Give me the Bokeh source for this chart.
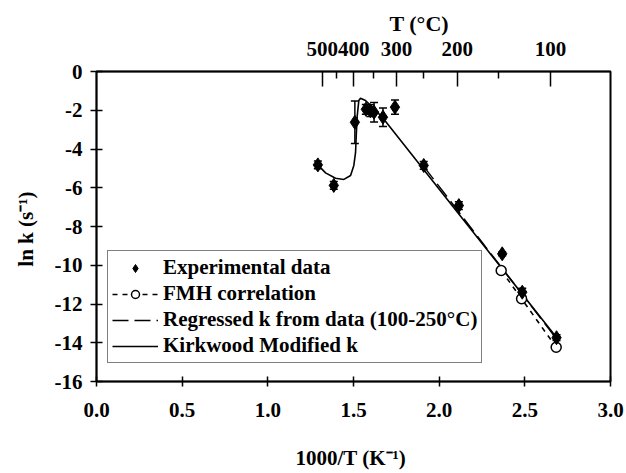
import numpy as np
from bokeh.plotting import figure
from bokeh.models import (Range1d, LinearAxis, FixedTicker, NumeralTickFormatter,
                          CustomJSTickFormatter, Legend, LegendItem, Whisker, TeeHead,
                          ColumnDataSource)
from bokeh.embed import file_html
from bokeh.resources import INLINE

# ---------------- data ----------------
exp_x = [1.292, 1.385, 1.508, 1.572, 1.598, 1.620, 1.672, 1.742, 1.910, 2.115, 2.368, 2.485, 2.685]
exp_y = [-4.82, -5.88, -2.62, -1.95, -2.02, -2.10, -2.36, -1.84, -4.85, -6.92, -9.41, -11.39, -13.74]
exp_err = [0.20, 0.20, 1.10, 0.25, 0.30, 0.50, 0.48, 0.37, 0.20, 0.20, 0.10, 0.20, 0.15]

fmh_x = [2.362, 2.481, 2.683]
fmh_y = [-10.27, -11.73, -14.23]

reg_x = [1.910, 2.685]
reg_y = [-4.90, -13.80]

kw_x = [1.292, 1.337, 1.395, 1.444, 1.483, 1.502, 1.512, 1.516, 1.522, 1.531, 1.541, 1.570, 1.599, 1.668, 2.685]
kw_y = [-4.82, -5.23, -5.51, -5.57, -5.37, -4.85, -4.17, -3.30, -2.27, -1.50, -1.38, -1.50, -1.75, -2.36, -13.73]

x_ticks = [0.0, 0.5, 1.0, 1.5, 2.0, 2.5, 3.0]
y_ticks = [0, -2, -4, -6, -8, -10, -12, -14, -16]
top_T_major = [500, 400, 300, 200, 100]
top_T_minor = [450, 350, 250, 150]

FONT = "Liberation Serif"

p = figure(width=626, height=473, output_backend="svg", toolbar_location=None,
           x_range=Range1d(0, 3), y_range=Range1d(-16, 0),
           min_border_left=96, min_border_right=16, min_border_top=71, min_border_bottom=92,
           x_axis_label="1000/T  (K⁻¹)", y_axis_label="ln k  (s⁻¹)",
           title="T (°C)")
p.background_fill_color = "white"
p.border_fill_color = "white"
p.grid.visible = False
p.outline_line_color = "black"
p.outline_line_width = 2

# top title used as the Celsius axis title
p.title.align = "left"
p.title.offset = 293
p.title.standoff = 6
p.title.text_font = FONT
p.title.text_font_style = "bold"
p.title.text_font_size = "22px"
p.title.text_color = "black"

# bottom axis
xa = p.xaxis[0]
xa.ticker = FixedTicker(ticks=x_ticks)
xa.formatter = NumeralTickFormatter(format="0.0")
xa.major_tick_in = 5
xa.major_tick_out = 5
xa.minor_tick_line_color = None
xa.major_label_standoff = 16
xa.axis_label_standoff = 26

# left axis
ya = p.yaxis[0]
ya.ticker = FixedTicker(ticks=y_ticks)
ya.formatter = NumeralTickFormatter(format="0")
ya.major_tick_in = 6
ya.major_tick_out = 6
ya.minor_tick_line_color = None
ya.major_label_standoff = 8
ya.axis_label_standoff = 14

for ax in (xa, ya):
    ax.axis_line_width = 1.5
    ax.major_tick_line_width = 1.5
    ax.major_label_text_font = FONT
    ax.major_label_text_font_style = "bold"
    ax.major_label_text_font_size = "21px"
    ax.major_label_text_color = "black"
    ax.axis_label_text_font = FONT
    ax.axis_label_text_font_style = "bold"
    ax.axis_label_text_font_size = "21px"
    ax.axis_label_text_color = "black"

# top axis in degrees Celsius
p.extra_x_ranges = {"top": Range1d(-0.077, 3.044)}
top_major = [1000.0 / (t + 273.15) for t in top_T_major]
top_minor = [1000.0 / (t + 273.15) for t in top_T_minor]
ta = LinearAxis(x_range_name="top",
                ticker=FixedTicker(ticks=top_major, minor_ticks=top_minor),
                formatter=CustomJSTickFormatter(code="return Math.round(1000/tick - 273.15).toString();"))
ta.major_tick_in = 15
ta.major_tick_out = 0
ta.minor_tick_in = 7
ta.minor_tick_out = 0
ta.major_tick_line_width = 1.5
ta.minor_tick_line_width = 1.5
ta.minor_tick_line_color = "black"
ta.axis_line_width = 1.5
ta.major_label_standoff = 16
ta.major_label_text_font = FONT
ta.major_label_text_font_style = "bold"
ta.major_label_text_font_size = "21px"
ta.major_label_text_color = "black"
p.add_layout(ta, "above")

# ---------------- glyphs ----------------
kw = p.line(kw_x, kw_y, line_color="black", line_width=1.6)
reg = p.line(reg_x, reg_y, line_color="black", line_width=1.4, line_dash="16 6")
fmh_l = p.line(fmh_x, fmh_y, line_color="black", line_width=1.6, line_dash="5 5")
fmh_c = p.scatter(fmh_x, fmh_y, marker="circle", size=10, fill_color="white",
                  line_color="black", line_width=1.5)

src = ColumnDataSource(dict(x=exp_x, y=exp_y,
                            up=[a + b for a, b in zip(exp_y, exp_err)],
                            lo=[a - b for a, b in zip(exp_y, exp_err)]))
wh = Whisker(source=src, base="x", upper="up", lower="lo", dimension="height",
             line_color="black", line_width=1.5,
             upper_head=TeeHead(size=8, line_width=1.5, line_color="black"),
             lower_head=TeeHead(size=8, line_width=1.5, line_color="black"))
p.add_layout(wh)
exp = p.scatter("x", "y", source=src, marker="diamond", size=14,
                fill_color="black", line_color="black")

legend = Legend(items=[
    LegendItem(label="Experimental data", renderers=[exp]),
    LegendItem(label="FMH correlation", renderers=[fmh_l, fmh_c]),
    LegendItem(label="Regressed k from data (100-250°C)", renderers=[reg]),
    LegendItem(label="Kirkwood Modified k", renderers=[kw]),
], location=(11, 18))
legend.border_line_color = "black"
legend.border_line_width = 1.5
legend.background_fill_color = "white"
legend.background_fill_alpha = 1
legend.label_text_font = FONT
legend.label_text_font_style = "bold"
legend.label_text_font_size = "21px"
legend.label_text_color = "black"
legend.glyph_width = 46
legend.glyph_height = 20
legend.label_height = 21
legend.spacing = 1
legend.padding = 4
legend.margin = 0
legend.label_standoff = 5
p.add_layout(legend)

open("out.html", "w").write(file_html(p, INLINE))
